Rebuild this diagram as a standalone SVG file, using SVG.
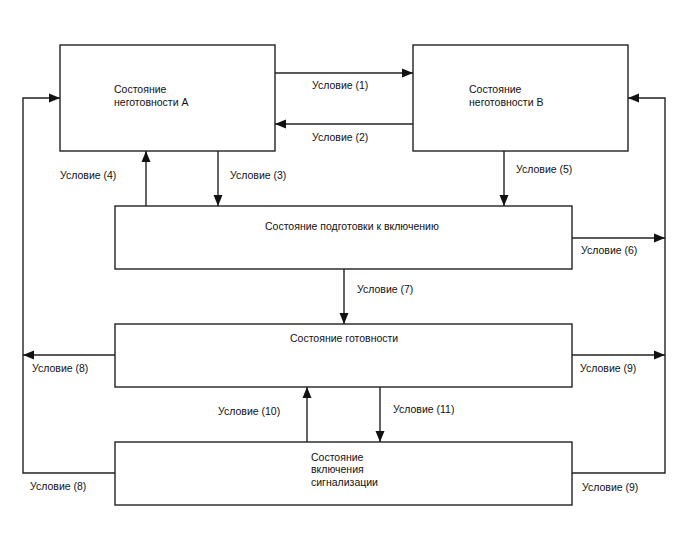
<svg xmlns="http://www.w3.org/2000/svg" width="688" height="560" viewBox="0 0 688 560">
<style>
.box{fill:#fff;stroke:#222;stroke-width:1.4}
.t{font-family:"Liberation Sans",Arial,sans-serif;font-size:10.5px;fill:#111}
.c{fill:none;stroke:#222;stroke-width:1.4}
</style>
<defs>
<marker id="ah" markerUnits="userSpaceOnUse" markerWidth="12" markerHeight="10" refX="11" refY="5" orient="auto">
<path d="M0,0.5 L11,5 L0,9.5 Z" fill="#111"/>
</marker>
</defs>
<rect width="688" height="560" fill="#fff"/>
<g id="nodeA"><rect class="box" x="60" y="45" width="215" height="106"/><text class="t" x="114" y="93">Состояние</text><text class="t" x="114" y="106">неготовности А</text></g>
<g id="nodeB"><rect class="box" x="413" y="45" width="215" height="106"/><text class="t" x="469" y="93">Состояние</text><text class="t" x="469" y="106">неготовности В</text></g>
<g id="nodePrep"><rect class="box" x="115" y="206" width="457" height="63"/><text class="t" x="265" y="229.5">Состояние подготовки к включению</text></g>
<g id="nodeReady"><rect class="box" x="115" y="324" width="457" height="63"/><text class="t" x="290" y="342">Состояние готовности</text></g>
<g id="nodeSignal"><rect class="box" x="115" y="442" width="457" height="63"/><text class="t" x="311" y="460.5">Состояние</text><text class="t" x="311" y="473">включения</text><text class="t" x="311" y="486">сигнализации</text></g>
<g id="connectors">
<path class="c" d="M275,73 H413" marker-end="url(#ah)"/>
<path class="c" d="M413,124 H275" marker-end="url(#ah)"/>
<path class="c" d="M218,151 V206" marker-end="url(#ah)"/>
<path class="c" d="M146,206 V151" marker-end="url(#ah)"/>
<path class="c" d="M504,151 V206" marker-end="url(#ah)"/>
<path class="c" d="M344,269 V324" marker-end="url(#ah)"/>
<path class="c" d="M572,238 H665" marker-end="url(#ah)"/>
<path class="c" d="M572,355 H665" marker-end="url(#ah)"/>
<path class="c" d="M115,355 H23" marker-end="url(#ah)"/>
<path class="c" d="M307,442 V387" marker-end="url(#ah)"/>
<path class="c" d="M380,387 V442" marker-end="url(#ah)"/>
<path class="c" d="M115,473 H23 V98 H60" marker-end="url(#ah)"/>
<path class="c" d="M572,473 H665 V98 H628" marker-end="url(#ah)"/>
<text class="t" x="312" y="89">Условие (1)</text>
<text class="t" x="312" y="140.5">Условие (2)</text>
<text class="t" x="230" y="179">Условие (3)</text>
<text class="t" x="60" y="179">Условие (4)</text>
<text class="t" x="516" y="173">Условие (5)</text>
<text class="t" x="581" y="254">Условие (6)</text>
<text class="t" x="357" y="293">Условие (7)</text>
<text class="t" x="32" y="371.5">Условие (8)</text>
<text class="t" x="580" y="372">Условие (9)</text>
<text class="t" x="218" y="414.5">Условие (10)</text>
<text class="t" x="393" y="413">Условие (11)</text>
<text class="t" x="30" y="490">Условие (8)</text>
<text class="t" x="582" y="490.5">Условие (9)</text>
</g>
</svg>
